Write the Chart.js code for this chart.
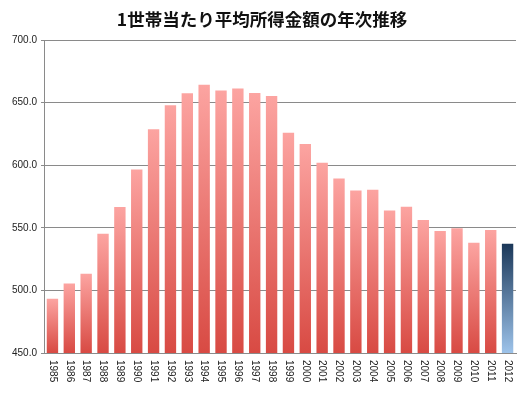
<!DOCTYPE html>
<html>
<head>
<meta charset="utf-8">
<script src="https://cdn.jsdelivr.net/npm/chart.js@4/dist/chart.umd.min.js"></script>
<style>
  html, body { margin: 0; padding: 0; background: #fff; }
  #wrap { width: 522px; height: 403px; }
</style>
</head>
<body>
<div id="wrap"><canvas id="incomeChart" width="522" height="403"></canvas></div>
<script>
const years = ['1985', '1986', '1987', '1988', '1989', '1990', '1991', '1992', '1993', '1994',
  '1995', '1996', '1997', '1998', '1999', '2000', '2001', '2002', '2003', '2004',
  '2005', '2006', '2007', '2008', '2009', '2010', '2011', '2012'];
const incomes = [493.3, 505.6, 513.2, 545.3, 566.7, 596.6, 628.7, 647.8, 657.5, 664.2,
  659.6, 661.2, 657.7, 655.2, 626.0, 616.9, 602.0, 589.3, 579.7, 580.4,
  563.8, 566.8, 556.2, 547.5, 549.6, 538.0, 548.2, 537.2];
const yMin = 450;
const yMax = 700;
const yStep = 50;
const title = '1世帯当たり平均所得金額の年次推移';

const lastIndex = years.length - 1;

function barFill(context) {
  const chart = context.chart;
  const area = chart.chartArea;
  const last = context.dataIndex === lastIndex;
  if (!area) return last ? '#4a6f98' : '#e8706b';
  const top = chart.scales.y.getPixelForValue(context.raw);
  const g = chart.ctx.createLinearGradient(0, top, 0, area.bottom);
  if (last) {
    g.addColorStop(0, '#1b3859');
    g.addColorStop(1, '#9dc3ea');
  } else {
    g.addColorStop(0, '#fca4a1');
    g.addColorStop(1, '#d84a43');
  }
  return g;
}

// year labels read top-to-bottom, so draw them ourselves
const downLabels = {
  id: 'downLabels',
  afterDraw(chart) {
    const x = chart.scales.x;
    const c = chart.ctx;
    c.save();
    c.fillStyle = '#222';
    c.font = '10px "Liberation Sans", Arial, sans-serif';
    c.textAlign = 'left';
    c.textBaseline = 'middle';
    years.forEach((label, i) => {
      c.save();
      c.translate(x.getPixelForTick(i), chart.chartArea.bottom + 7);
      c.rotate(Math.PI / 2);
      c.fillText(label, 0, 0);
      c.restore();
    });
    c.restore();
  }
};

new Chart(document.getElementById('incomeChart'), {
  type: 'bar',
  data: {
    labels: years,
    datasets: [{
      label: '平均所得金額',
      data: incomes,
      backgroundColor: barFill,
      borderWidth: 0,
      barPercentage: 0.75,
      categoryPercentage: 0.9
    }]
  },
  options: {
    responsive: false,
    animation: false,
    layout: { padding: { left: 8, right: 6, top: 0, bottom: 50 } },
    plugins: {
      legend: { display: false },
      tooltip: { enabled: false },
      title: {
        display: true,
        text: title,
        color: '#111',
        font: { family: '"Noto Sans CJK JP", sans-serif', size: 17.5, weight: 'bold' },
        padding: { top: 9, bottom: 10 }
      }
    },
    scales: {
      x: {
        ticks: { display: false },
        grid: { display: false, drawTicks: false },
        border: { color: '#8a8a8a', width: 1 }
      },
      y: {
        min: yMin,
        max: yMax,
        ticks: {
          stepSize: yStep,
          color: '#222',
          padding: 4,
          font: { family: '"Liberation Sans", Arial, sans-serif', size: 10 },
          callback: v => v.toFixed(1)
        },
        grid: { color: '#8a8a8a', lineWidth: 1, tickLength: 3 },
        border: { color: '#8a8a8a', width: 1 }
      }
    }
  },
  plugins: [downLabels]
});
</script>
</body>
</html>
